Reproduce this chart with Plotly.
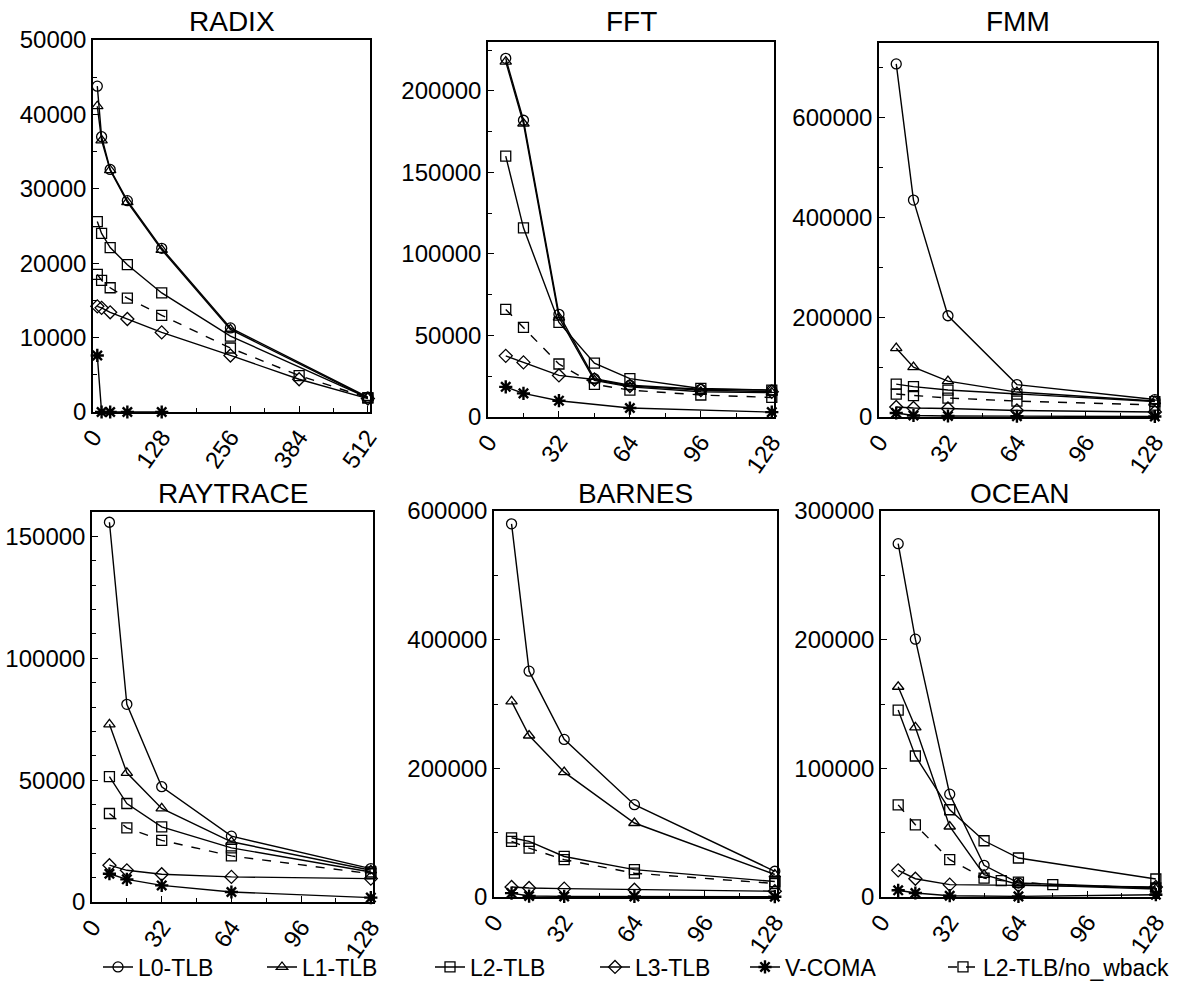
import plotly.graph_objects as go

W, H = 1180, 985
FONT = "Liberation Sans, Arial, Helvetica, sans-serif"

series_names = ["L0-TLB", "L1-TLB", "L2-TLB", "L3-TLB", "V-COMA", "L2-TLB/no_wback"]
series_symbols = ["circle-open", "triangle-up-open", "square-open", "diamond-open",
                  "asterisk-open", "square-open"]
series_dash = ["solid", "solid", "solid", "solid", "solid", "dash"]

# ---------------- RADIX ----------------
radix_x = [8, 16, 32, 64, 128, 256, 512]
radix_x_ext = [8, 16, 32, 64, 128, 256, 384, 512]
radix_x_vc = [8, 16, 32, 64, 128]
radix_l0 = [43800, 37000, 32600, 28400, 22000, 11300, 2000]
radix_l1 = [41100, 36500, 32500, 28200, 21800, 11100, 1900]
radix_l2 = [25600, 24000, 22100, 19800, 16000, 10200, 1900]
radix_l3 = [14200, 14000, 13400, 12500, 10700, 7600, 4400, 1800]
radix_vc = [7600, 0, 0, 0, 0]
radix_l2nw = [18500, 17700, 16700, 15300, 13000, 8600, 4900, 1900]

# ---------------- FFT ----------------
fft_x = [8, 16, 32, 48, 64, 96, 128]
fft_x_vc = [8, 16, 32, 64, 128]
fft_l0 = [220000, 182000, 63000, 23500, 19500, 17000, 16500]
fft_l1 = [218000, 180000, 61000, 22500, 18500, 15500, 15000]
fft_l2 = [160000, 116000, 58000, 33000, 23500, 17500, 16500]
fft_l3 = [37500, 33500, 25500, 23000, 19000, 16500, 15500]
fft_vc = [18500, 14500, 10000, 5500, 3000]
fft_l2nw = [66000, 55000, 32500, 20000, 16500, 13500, 12000]

# ---------------- FMM ----------------
fmm_x = [8, 16, 32, 64, 128]
fmm_l0 = [708000, 435000, 203000, 65000, 35000]
fmm_l1 = [138000, 100000, 72000, 50000, 32000]
fmm_l2 = [66000, 61000, 54000, 46000, 31000]
fmm_l3 = [20000, 18000, 17000, 13000, 10000]
fmm_vc = [8000, 3000, 2000, 1500, 1000]
fmm_l2nw = [46000, 43000, 38000, 32000, 24000]

# ---------------- RAYTRACE ----------------
ray_x = [8, 16, 32, 64, 128]
ray_l0 = [155800, 81100, 47300, 27000, 13700]
ray_l1 = [72900, 53000, 38400, 24700, 13000]
ray_l2 = [51400, 40400, 30800, 22200, 12300]
ray_l3 = [15100, 13000, 11400, 10300, 9600]
ray_vc = [11600, 9300, 6800, 4100, 1800]
ray_l2nw = [36300, 30400, 25300, 18900, 11600]

# ---------------- BARNES ----------------
bar_x = [8, 16, 32, 64, 128]
bar_l0 = [580000, 351000, 245000, 143500, 40000]
bar_l1 = [304000, 251000, 194000, 115000, 35000]
bar_l2 = [92000, 86500, 63000, 42500, 24000]
bar_l3 = [15500, 14000, 13000, 11400, 9000]
bar_vc = [6000, 1500, 1000, 1000, 500]
bar_l2nw = [86500, 76000, 58000, 37000, 21000]

# ---------------- OCEAN ----------------
oc_x = [8, 16, 32, 48, 64, 128]
oc_x_nw = [8, 16, 32, 48, 56, 64, 80, 128]
oc_x_short = [8, 16, 32, 64, 128]
oc_l0 = [274600, 200400, 79900, 24600, 10900, 7000]
oc_l1 = [163400, 131900, 54800, 17300, 9600, 6200]
oc_l2 = [145300, 109600, 67800, 43700, 30300, 14000]
oc_l3 = [20700, 14200, 9600, 9000, 7800]
oc_vc = [5200, 3100, 1000, 500, 1800]
oc_l2nw = [71600, 56100, 29000, 14700, 12700, 11600, 9600, 7000]

panels = [
    dict(title="RADIX", px=(93, 370), py=(40, 412), xr=[0, 516], xt=[0, 128, 256, 384, 512], xm=64,
         yr=[0, 50000], yd=10000, ym=5000,
         data=[(radix_x, radix_l0), (radix_x, radix_l1), (radix_x, radix_l2), (radix_x_ext, radix_l3),
               (radix_x_vc, radix_vc), (radix_x_ext, radix_l2nw)]),
    dict(title="FFT", px=(488, 774), py=(42, 417), xr=[0, 129], xt=[0, 32, 64, 96, 128], xm=16,
         yr=[0, 230000], yd=50000, ym=25000,
         data=[(fft_x, fft_l0), (fft_x, fft_l1), (fft_x, fft_l2), (fft_x, fft_l3),
               (fft_x_vc, fft_vc), (fft_x, fft_l2nw)]),
    dict(title="FMM", px=(879, 1157), py=(43, 417), xr=[0, 129], xt=[0, 32, 64, 96, 128], xm=16,
         yr=[0, 750000], yd=200000, ym=100000,
         data=[(fmm_x, fmm_l0), (fmm_x, fmm_l1), (fmm_x, fmm_l2), (fmm_x, fmm_l3),
               (fmm_x, fmm_vc), (fmm_x, fmm_l2nw)]),
    dict(title="RAYTRACE", px=(92, 373), py=(512, 902), xr=[0, 129], xt=[0, 32, 64, 96, 128], xm=16,
         yr=[0, 160000], yd=50000, ym=10000,
         data=[(ray_x, ray_l0), (ray_x, ray_l1), (ray_x, ray_l2), (ray_x, ray_l3),
               (ray_x, ray_vc), (ray_x, ray_l2nw)]),
    dict(title="BARNES", px=(494, 777), py=(511, 897), xr=[0, 129], xt=[0, 32, 64, 96, 128], xm=16,
         yr=[0, 600000], yd=200000, ym=100000,
         data=[(bar_x, bar_l0), (bar_x, bar_l1), (bar_x, bar_l2), (bar_x, bar_l3),
               (bar_x, bar_vc), (bar_x, bar_l2nw)]),
    dict(title="OCEAN", px=(881, 1158), py=(511, 897), xr=[0, 129], xt=[0, 32, 64, 96, 128], xm=16,
         yr=[0, 300000], yd=100000, ym=50000,
         data=[(oc_x, oc_l0), (oc_x, oc_l1), (oc_x, oc_l2), (oc_x_short, oc_l3),
               (oc_x_short, oc_vc), (oc_x_nw, oc_l2nw)]),
]

# legend text starting positions (px) in the reference
legend_text_px = [138, 302, 470, 635, 785, 983]
legend_keys = ["legend", "legend2", "legend3", "legend4", "legend5", "legend6"]

fig = go.Figure()
layout = dict(
    width=W, height=H, margin=dict(l=0, r=0, t=0, b=0, autoexpand=False),
    paper_bgcolor="white", plot_bgcolor="white",
    font=dict(family=FONT, size=23, color="black"),
    annotations=[],
)

for i, p in enumerate(panels):
    n = "" if i == 0 else str(i + 1)
    xa, ya = "x" + n, "y" + n
    for j, (xs, ys) in enumerate(p["data"]):
        is_vc = series_names[j] == "V-COMA"
        fig.add_trace(go.Scatter(
            x=xs, y=ys, xaxis=xa, yaxis=ya, mode="lines+markers",
            name=series_names[j], showlegend=(i == 0), legend=legend_keys[j],
            cliponaxis=False,
            line=dict(color="black", width=1.4, dash=series_dash[j]),
            marker=dict(symbol=series_symbols[j], size=11 if is_vc else 10,
                        color="black", line=dict(color="black", width=2.4 if is_vc else 1.3)),
        ))
    x0, x1 = p["px"]
    y0, y1 = p["py"]
    axis_common = dict(showline=True, mirror=True, linecolor="black", linewidth=1.5,
                       showgrid=False, zeroline=False, ticks="inside", ticklen=6,
                       tickcolor="black", tickwidth=1.2, automargin=False,
                       tickfont=dict(family=FONT, size=24, color="black"))
    layout["xaxis" + n] = dict(axis_common, domain=[x0 / W, x1 / W], range=p["xr"],
                               tickmode="array", tickvals=p["xt"], tickangle=-55,
                               minor=dict(dtick=p["xm"], tick0=0, ticks="inside", ticklen=4,
                                          tickcolor="black"),
                               anchor=ya)
    layout["yaxis" + n] = dict(axis_common, domain=[1 - y1 / H, 1 - y0 / H], range=p["yr"],
                               dtick=p["yd"], tick0=0, tickformat="d",
                               minor=dict(dtick=p["ym"], tick0=0, ticks="inside", ticklen=4,
                                          tickcolor="black"),
                               anchor=xa)
    ty = 22 if y0 < 100 else 493
    layout["annotations"].append(dict(
        text=p["title"], x=(x0 + x1) / 2 / W, y=1 - ty / H, xref="paper", yref="paper",
        xanchor="center", yanchor="middle", showarrow=False,
        font=dict(family=FONT, size=28, color="black")))

for k, key in enumerate(legend_keys):
    layout[key] = dict(orientation="h", x=(legend_text_px[k] - 40) / W, xanchor="left",
                       y=1 - 967 / H, yanchor="middle", bgcolor="rgba(0,0,0,0)",
                       font=dict(family=FONT, size=23, color="black"),
                       itemwidth=30, tracegroupgap=0)

fig.update_layout(**layout)
fig.write_html("out.html")
